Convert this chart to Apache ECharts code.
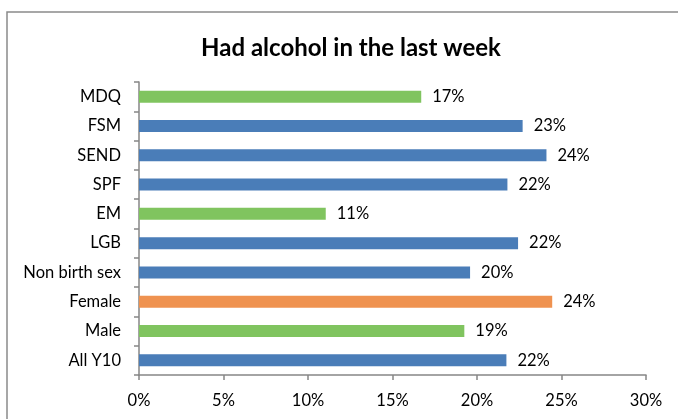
<!DOCTYPE html>
<html lang="en">
<head>
    <meta charset="UTF-8">
    <title>Had alcohol in the last week</title>
    <script src="https://cdn.jsdelivr.net/npm/echarts@6/dist/echarts.min.js"></script>
    <style>
        html, body { margin: 0; padding: 0; background: #fff; }
    </style>
</head>
<body>
    <div id="main" style="width: 678px;height:419px;"></div>
    <script type="text/javascript">
        // categories, bottom to top
        var categories = ['All Y10', 'Male', 'Female', 'Non birth sex', 'LGB', 'EM', 'SPF', 'SEND', 'FSM', 'MDQ'];
        // percent who had alcohol in the last week
        var values = [21.74, 19.25, 24.45, 19.59, 22.43, 11.05, 21.8, 24.11, 22.7, 16.7];
        var xTicks = ['0%', '5%', '10%', '15%', '20%', '25%', '30%'];

        var blue = '#4a7db8', green = '#80c45f', orange = '#ef9250';
        var barColors = [blue, green, orange, blue, blue, green, blue, blue, blue, green];

        var myChart = echarts.init(document.getElementById('main'));
        var font = 'Lato, "Open Sans", sans-serif';

        var option = {
            animation: false,
            title: {
                text: 'Had alcohol in the last week',
                left: 346,
                textAlign: 'center',
                top: 31,
                textStyle: { fontFamily: font, fontSize: 24, fontWeight: 'bold', color: '#000' }
            },
            graphic: [{
                type: 'rect',
                shape: { x: 7, y: 12, width: 720, height: 440 },
                style: { fill: 'none', stroke: '#8a8a8a', lineWidth: 1.5 },
                silent: true
            }],
            grid: { left: 139, right: 32, top: 82, bottom: 44 },
            xAxis: {
                type: 'value',
                min: 0,
                max: 30,
                interval: 5,
                axisLine: { show: true, lineStyle: { color: '#868686', width: 1.5 } },
                axisTick: { show: true, length: 5, lineStyle: { color: '#868686', width: 1.5 } },
                splitLine: { show: false },
                axisLabel: {
                    margin: 17,
                    fontFamily: font, fontSize: 16.5, color: '#000',
                    formatter: function (v) { return xTicks[Math.round(v / 5)]; }
                }
            },
            yAxis: {
                type: 'category',
                data: categories,
                axisLine: { show: true, lineStyle: { color: '#868686', width: 1.5 } },
                axisTick: { show: true, length: 5, lineStyle: { color: '#868686', width: 1.5 } },
                axisLabel: { margin: 18, fontFamily: font, fontSize: 16.5, color: '#000' }
            },
            series: [{
                type: 'bar',
                barWidth: 12,
                data: values.map(function (v, i) {
                    return { value: v, itemStyle: { color: barColors[i] } };
                }),
                label: {
                    show: true,
                    position: 'right',
                    distance: 11,
                    fontFamily: font, fontSize: 16.5, color: '#000',
                    formatter: function (p) { return Math.round(p.value) + '%'; }
                }
            }]
        };

        myChart.setOption(option);
    </script>
</body>
</html>
